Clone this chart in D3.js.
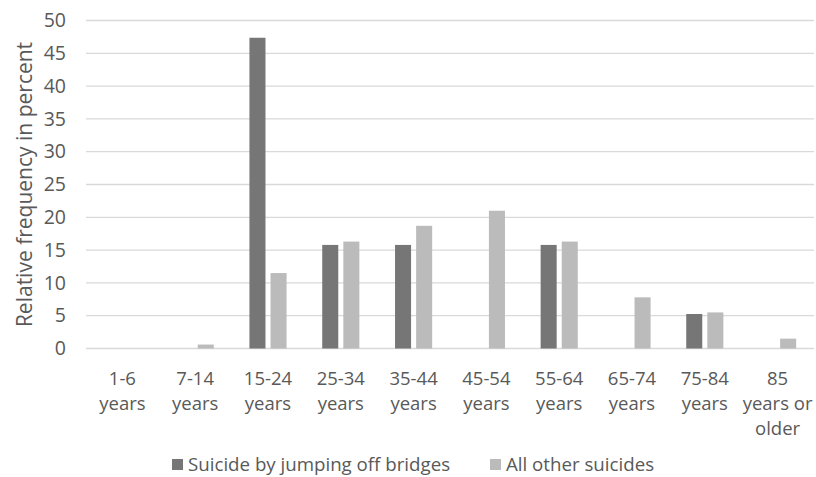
<!DOCTYPE html>
<html>
<head>
<meta charset="utf-8">
<script src="https://cdn.jsdelivr.net/npm/d3@7"></script>
<style>
  html, body { margin: 0; padding: 0; background: #fff; }
  svg { display: block; font-family: "Open Sans", Lato, sans-serif; }
</style>
</head>
<body>
<svg id="chart" width="816" height="477"></svg>
<script>
// Age groups (each label is split over several lines)
const categories = [
  ["1-6", "years"], ["7-14", "years"], ["15-24", "years"], ["25-34", "years"],
  ["35-44", "years"], ["45-54", "years"], ["55-64", "years"], ["65-74", "years"],
  ["75-84", "years"], ["85", "years or", "older"]
];
const seriesNames = ["Suicide by jumping off bridges", "All other suicides"];
const bridgeValues = [0, 0, 47.37, 15.79, 15.79, 0, 15.79, 0, 5.26, 0];
const otherValues  = [0, 0.6, 11.5, 16.3, 18.7, 21.0, 16.3, 7.8, 5.5, 1.5];
const yTicks = [0, 5, 10, 15, 20, 25, 30, 35, 40, 45, 50];
const colors = ["#767676", "#bbbbbb"];

const FONT = "'Open Sans', Lato, sans-serif";
const TEXT = "#595959";

const svg = d3.select("#chart");
const m = { left: 86, right: 814, top: 20.5, bottom: 348.5 };

const keys = categories.map((c, i) => i);
const x0 = d3.scaleBand().domain(keys).range([m.left, m.right]).paddingInner(0.49).paddingOuter(0.245);
const x1 = d3.scaleBand().domain([0, 1]).range([0, x0.bandwidth()]).paddingInner(0.24);
const y = d3.scaleLinear().domain([0, 50]).range([m.bottom, m.top]);

// Horizontal gridlines
svg.append("g").selectAll("line").data(yTicks).join("line")
  .attr("x1", m.left).attr("x2", m.right)
  .attr("y1", d => y(d)).attr("y2", d => y(d))
  .attr("stroke", "#d9d9d9").attr("stroke-width", 1.3);

// Y axis tick labels
const yAxis = d3.axisLeft(y).tickValues(yTicks).tickSize(0).tickPadding(0);
const ya = svg.append("g").attr("transform", `translate(${m.left - 20},0)`).call(yAxis);
ya.select(".domain").remove();
ya.selectAll("text").attr("font-size", 19.5).attr("fill", TEXT).attr("font-family", FONT);

// Bars
const rows = keys.map(i => [bridgeValues[i], otherValues[i]]);
const groups = svg.append("g").selectAll("g").data(rows).join("g")
  .attr("transform", (d, i) => `translate(${x0(i)},0)`);
groups.selectAll("rect").data(d => d.map((v, s) => ({ v, s }))).join("rect")
  .filter(d => d.v > 0)
  .attr("x", d => x1(d.s)).attr("width", x1.bandwidth())
  .attr("y", d => y(d.v)).attr("height", d => y(0) - y(d.v))
  .attr("fill", d => colors[d.s]);

// X axis category labels, one text element per line
const xl = svg.append("g");
categories.forEach((lines, i) => {
  const cx = x0(i) + x0.bandwidth() / 2;
  lines.forEach((ln, j) => {
    xl.append("text").attr("text-anchor", "middle")
      .attr("font-size", 18.5).attr("fill", TEXT)
      .attr("x", cx).attr("y", 385 + j * 25).text(ln);
  });
});

// Y axis title
svg.append("text")
  .attr("transform", `translate(24,${(42 + 327) / 2}) rotate(-90)`)
  .attr("text-anchor", "middle").attr("dominant-baseline", "central")
  .attr("font-size", 21).attr("fill", TEXT)
  .text("Relative frequency in percent");

// Legend
const legendX = [172, 490];
const lg = svg.append("g").selectAll("g").data(seriesNames).join("g")
  .attr("transform", (d, i) => `translate(${legendX[i]},0)`);
lg.append("rect").attr("x", 0).attr("y", 459).attr("width", 11).attr("height", 11)
  .attr("fill", (d, i) => colors[i]);
lg.append("text").attr("x", 16).attr("y", 471).attr("font-size", 18.7).attr("fill", TEXT)
  .text(d => d);
</script>
</body>
</html>
